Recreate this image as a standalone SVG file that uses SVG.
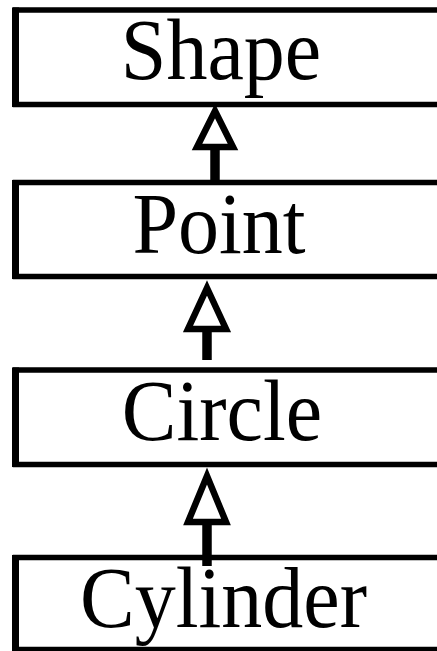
<svg xmlns="http://www.w3.org/2000/svg" width="437" height="651" viewBox="0 0 437 651">
<style>
.box{fill:#fff;stroke:#000;stroke-width:5.5}
.edge{stroke:#000;stroke-width:7}
.lbl{font-family:"Liberation Serif","Times New Roman",serif;font-size:82px;fill:#000;text-anchor:middle}
.stem{stroke:#000;stroke-width:9.5;fill:none}
.head{fill:#fff;stroke:#000;stroke-width:6.5;stroke-linejoin:miter}
</style>
<rect width="437" height="651" fill="#fff"/>
<g id="Shape"><rect class="box" x="15.5" y="10" width="440" height="94.5"/><line class="edge" x1="15.5" y1="7.5" x2="15.5" y2="107"/><text class="lbl" transform="translate(221,79) scale(1,1.07)">Shape</text></g>
<g id="Point"><rect class="box" x="15.5" y="182.5" width="440" height="94"/><line class="edge" x1="15.5" y1="180" x2="15.5" y2="279"/><text class="lbl" transform="translate(219,253) scale(1,1.07)">Point</text></g>
<g id="Circle"><rect class="box" x="15.5" y="370" width="440" height="94.5"/><line class="edge" x1="15.5" y1="367.5" x2="15.5" y2="467"/><text class="lbl" transform="translate(222,440) scale(1,1.07)">Circle</text></g>
<g id="Cylinder"><rect class="box" x="15.5" y="557.5" width="440" height="92"/><line class="edge" x1="15.5" y1="555" x2="15.5" y2="651"/><text class="lbl" transform="translate(223.5,627) scale(1,1.07)">Cylinder</text></g>
<g id="connectors">
<line class="stem" x1="215" y1="150" x2="215" y2="180"/>
<polygon class="head" points="215,111 233,147 197,147"/>
<line class="stem" x1="207" y1="332" x2="207" y2="360"/>
<polygon class="head" points="207,288 226,329 188,329"/>
<line class="stem" x1="207" y1="525" x2="207" y2="566"/>
<polygon class="head" points="207,476 226,522 188,522"/>
</g>
</svg>
